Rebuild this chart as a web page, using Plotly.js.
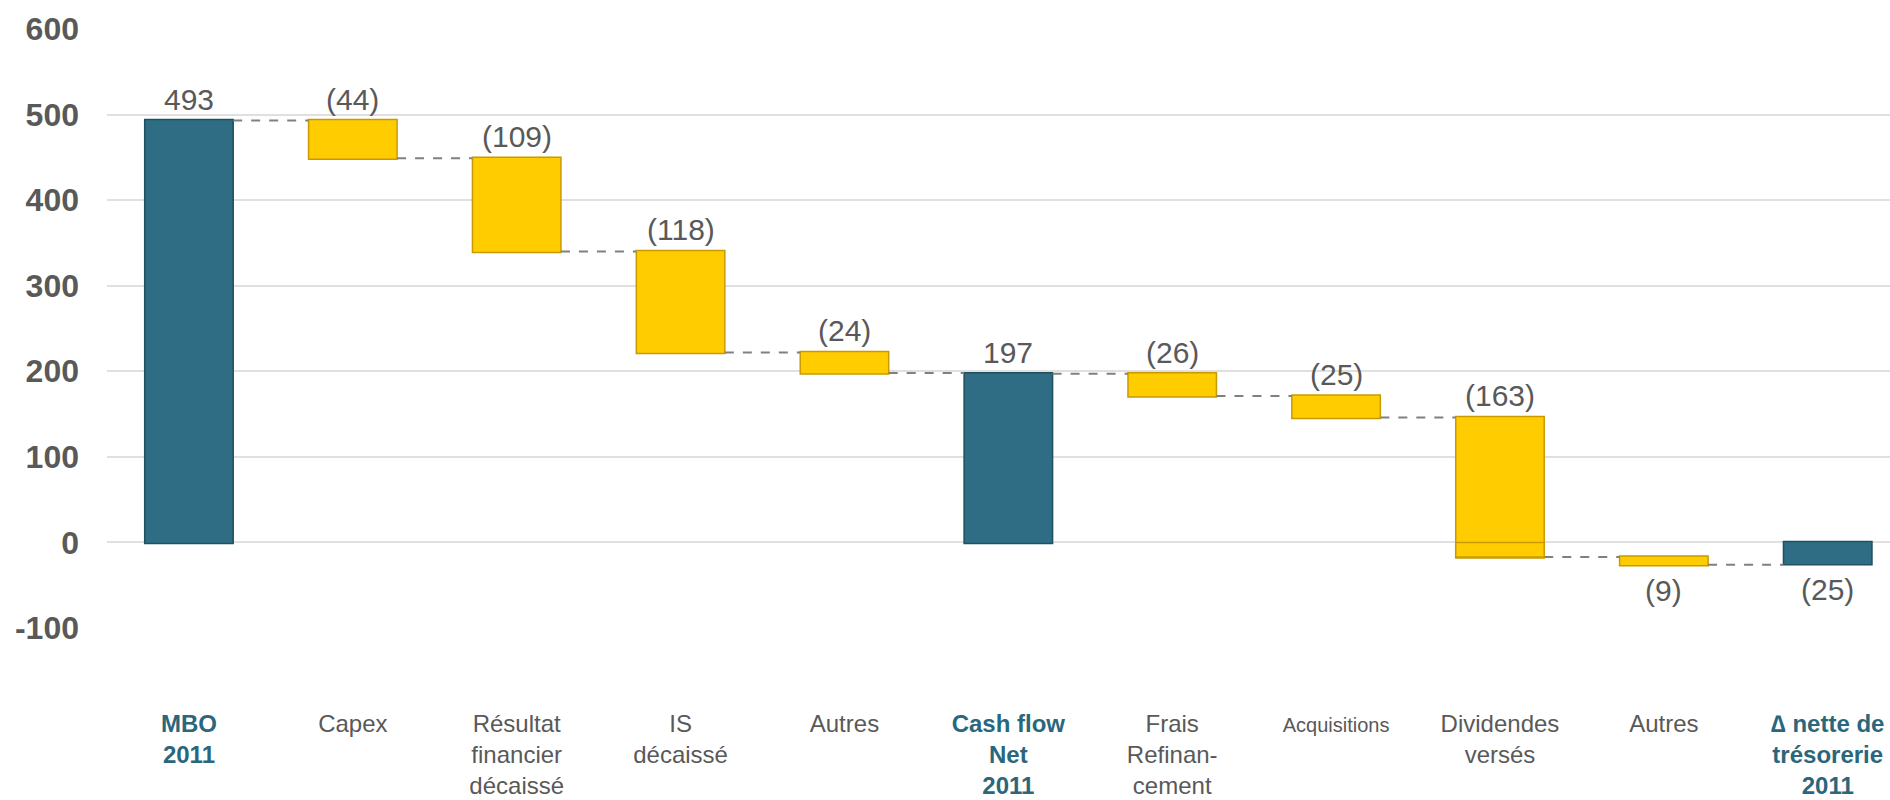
<!DOCTYPE html>
<html>
<head>
<meta charset="utf-8">
<script src="https://cdn.plot.ly/plotly-3.0.1.min.js"></script>
<style>
  html, body { margin: 0; padding: 0; background: #ffffff; }
  #chart { width: 1890px; height: 800px; }
</style>
</head>
<body>
<div id="chart"></div>
<script>
// ---- Data ----
var categories = [
  '<b><span style="color:#2A667C">MBO<br>2011</span></b>',
  'Capex',
  'Résultat<br>financier<br>décaissé',
  'IS<br>décaissé',
  'Autres',
  '<b><span style="color:#2A667C">Cash flow<br>Net<br>2011</span></b>',
  'Frais<br>Refinan-<br>cement',
  '<span style="font-size:20px">Acquisitions</span>',
  'Dividendes<br>versés',
  'Autres',
  '<b><span style="color:#2A667C">∆ nette de<br>trésorerie<br>2011</span></b>'
];
var values   = [493, -44, -109, -118, -24, 197, -26, -25, -163, -9, -25];
var measures = ['absolute','relative','relative','relative','relative','absolute',
                'relative','relative','relative','relative','absolute'];
var yTickVals = [-100, 0, 100, 200, 300, 400, 500, 600];
var yTickText = ['-100', '0', '100', '200', '300', '400', '500', '600'];

(function () {
  var YELLOW = '#FFCC00', YELLOW_EDGE = '#C99A00';
  var TEAL = '#2E6D84', TEAL_EDGE = '#1F4F61';
  var BAR_W = 0.54;
  var FONT = 'Liberation Sans, Arial, sans-serif';

  // ---- Derived geometry from data ----
  var xs = values.map(function (_, i) { return i; });
  var starts = [], ends = [];
  var level = 0;
  for (var i = 0; i < values.length; i++) {
    var s, e;
    if (measures[i] === 'absolute') { s = 0; e = values[i]; }
    else { s = level; e = level + values[i]; }
    starts.push(s); ends.push(e); level = e;
  }
  var annotations = [];
  for (var j = 0; j < values.length; j++) {
    var hi = Math.max(starts[j], ends[j]);
    var lo = Math.min(starts[j], ends[j]);
    var v = values[j];
    var txt = v < 0 ? '(' + Math.abs(v) + ')' : String(v);
    var above = hi > 0;
    annotations.push({
      x: j, xref: 'x',
      y: above ? hi : lo, yref: 'y',
      text: txt,
      showarrow: false,
      xanchor: 'center',
      yanchor: above ? 'bottom' : 'top',
      yshift: above ? 3 : -7,
      font: { family: FONT, size: 30, color: '#595959' }
    });
  }
  // negative part of relative bars that cross zero (drawn as a separate segment)
  var splitX = [], splitY = [];
  for (var k = 0; k < values.length; k++) {
    if (measures[k] === 'relative') {
      var h2 = Math.max(starts[k], ends[k]), l2 = Math.min(starts[k], ends[k]);
      if (h2 > 0 && l2 < 0) { splitX.push(k); splitY.push(l2); }
    }
  }

  var traces = [
    {
      type: 'waterfall',
      x: xs,
      y: values,
      measure: measures,
      width: BAR_W,
      textposition: 'none',
      hoverinfo: 'skip',
      decreasing: { marker: { color: YELLOW, line: { color: YELLOW_EDGE, width: 1.5 } } },
      increasing: { marker: { color: YELLOW, line: { color: YELLOW_EDGE, width: 1.5 } } },
      totals: { marker: { color: TEAL, line: { color: TEAL_EDGE, width: 1.5 } } },
      connector: { mode: 'between', line: { color: '#808080', width: 2, dash: 'dash' } },
      showlegend: false
    },
    {
      type: 'bar',
      x: splitX,
      y: splitY,
      base: 0,
      width: BAR_W,
      marker: { color: YELLOW, line: { color: YELLOW_EDGE, width: 1.5 } },
      hoverinfo: 'skip',
      showlegend: false
    }
  ];

  var layout = {
    width: 1890,
    height: 800,
    margin: { l: 107, r: 0, t: 29, b: 172 },
    paper_bgcolor: '#ffffff',
    plot_bgcolor: '#ffffff',
    barmode: 'overlay',
    showlegend: false,
    font: { family: FONT, color: '#595959' },
    annotations: annotations,
    xaxis: {
      range: [-0.5, 10.38],
      tickmode: 'array',
      tickvals: xs,
      ticktext: categories,
      showgrid: false,
      zeroline: false,
      showline: false,
      ticks: '',
      ticklabelstandoff: 79,
      tickfont: { family: FONT, size: 24, color: '#595959' },
      fixedrange: true
    },
    yaxis: {
      range: [-100, 600],
      tickmode: 'array',
      tickvals: yTickVals,
      ticktext: yTickText,
      showgrid: true,
      gridcolor: '#E0E0E0',
      gridwidth: 2,
      zeroline: true,
      zerolinecolor: '#E0E0E0',
      zerolinewidth: 2,
      showline: false,
      ticks: '',
      ticklabelstandoff: 27,
      tickfont: { family: FONT, size: 32, color: '#595959', weight: 'bold' },
      fixedrange: true
    }
  };

  Plotly.newPlot('chart', traces, layout, { displayModeBar: false, staticPlot: true });
})();
</script>
</body>
</html>
